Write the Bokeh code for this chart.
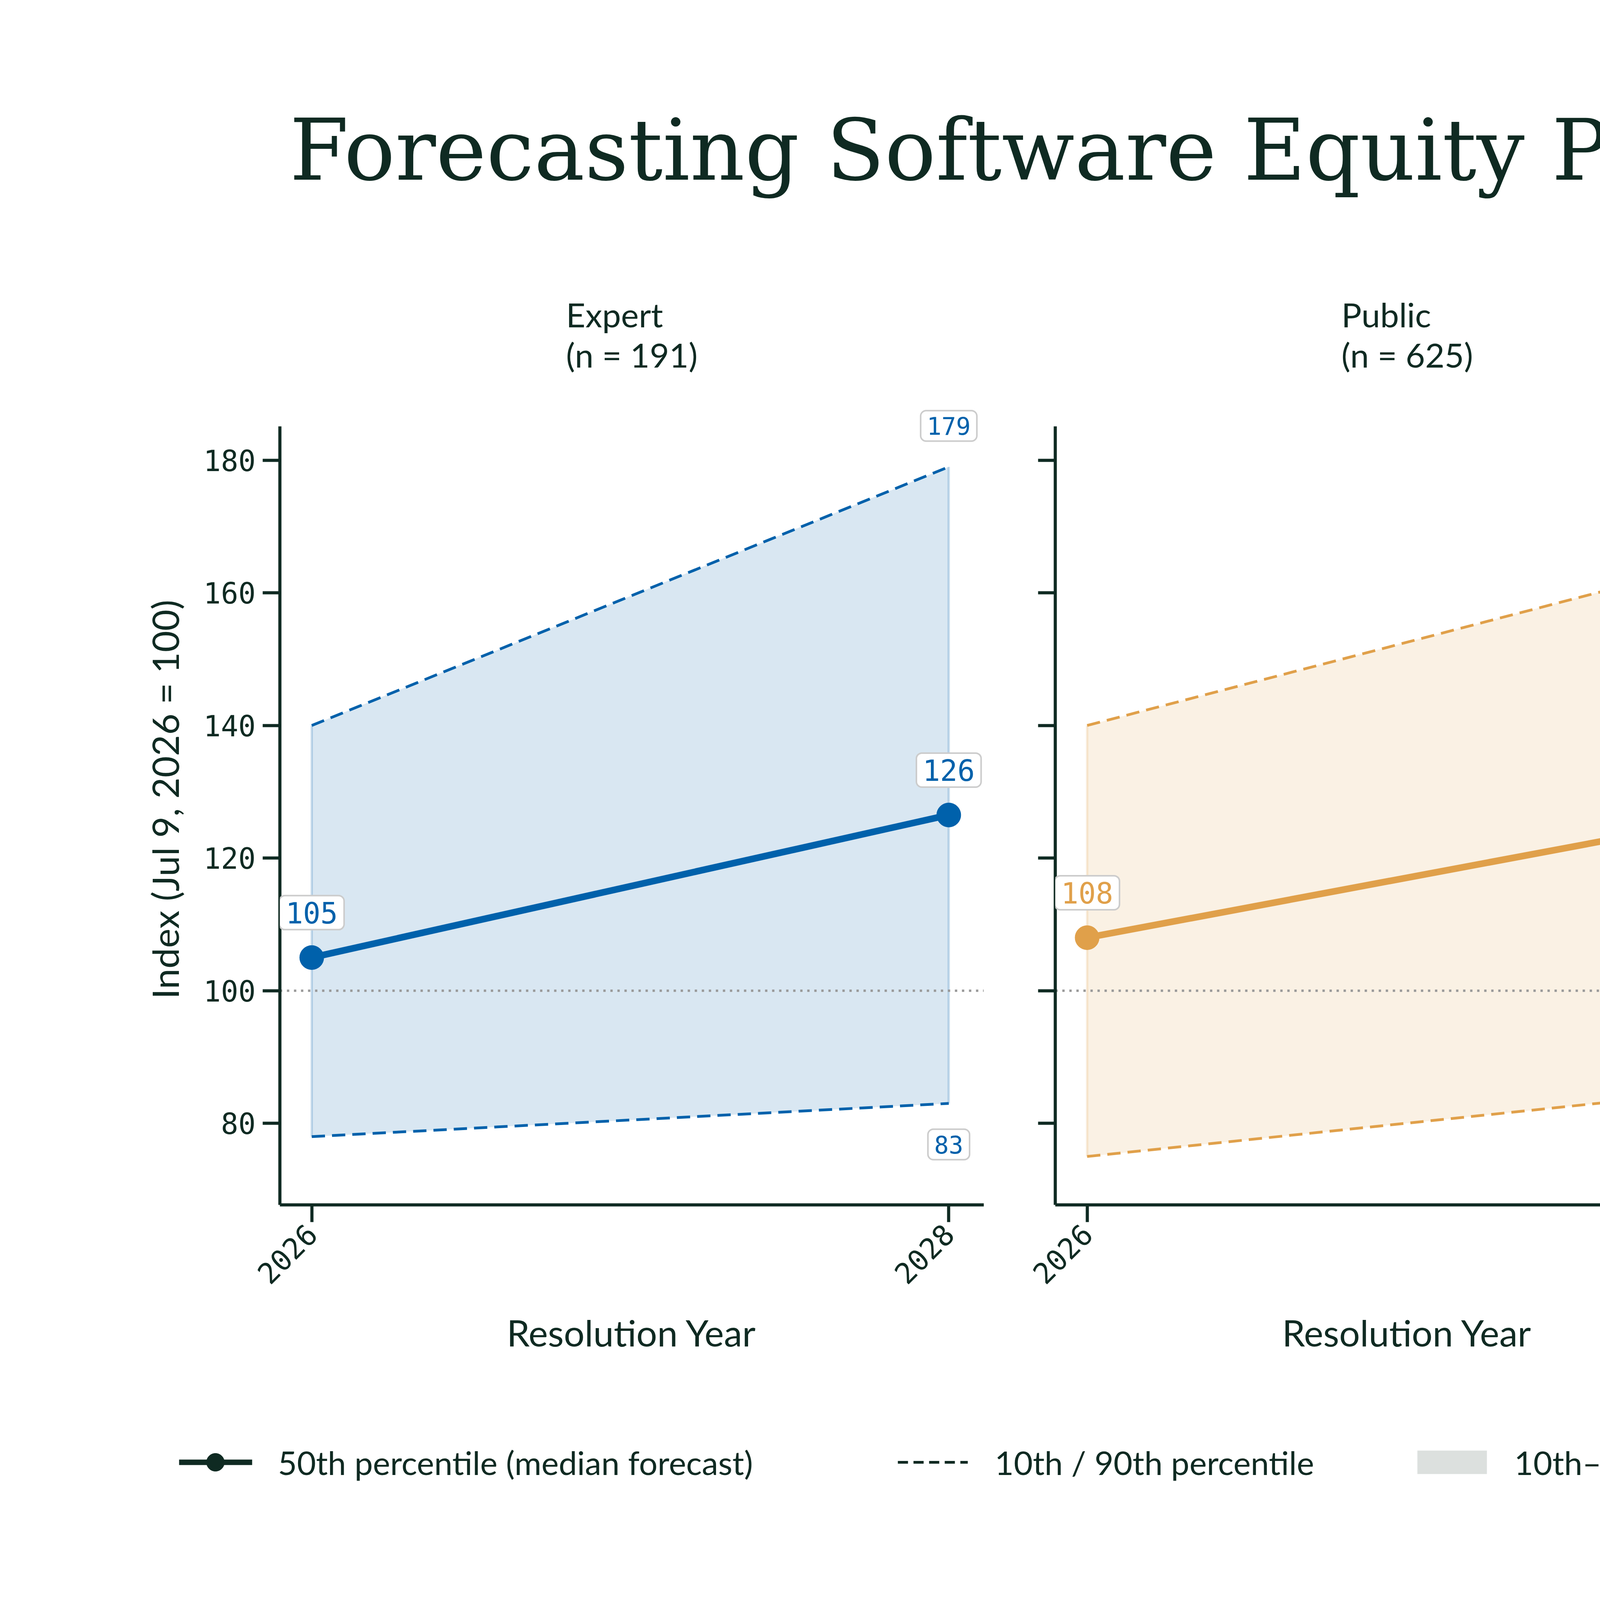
import math

from bokeh.core.properties import value
from bokeh.embed import file_html
from bokeh.layouts import column, row
from bokeh.models import Label, Range1d, FixedTicker
from bokeh.plotting import figure
from bokeh.resources import INLINE

# ---------------------------------------------------------------------------
# Data
# ---------------------------------------------------------------------------
years = [2026, 2028]
groups = ["Expert", "Public", "Superforecaster"]
counts = [191, 625, 52]
median = {"Expert": [105, 126.5], "Public": [108, 126], "Superforecaster": [104, 120]}
p10 = {"Expert": [78, 83], "Public": [75, 85], "Superforecaster": [73, 73]}
p90 = {"Expert": [140, 179], "Public": [140, 165], "Superforecaster": [130, 170]}
median_labels = {"Expert": ["105", "126"], "Public": ["108", "126"], "Superforecaster": ["104", "120"]}
y_ticks = [80, 100, 120, 140, 160, 180]
colors = {"Expert": "#0061AB", "Public": "#E0A04A", "Superforecaster": "#DF5A5E"}

DARK = "#0F2A22"
SANS = "Lato"
MONO = "DejaVu Sans Mono"
W = 6784
Y_LO, Y_SPINE, Y_HI = 67.7, 185.1, 190.0


def _blank(fig):
    fig.outline_line_color = None
    fig.xgrid.visible = False
    fig.ygrid.visible = False
    fig.background_fill_color = "white"
    fig.border_fill_color = "white"


def _label(fig, x, y, text, color, offset, size):
    fig.add_layout(Label(
        x=x, y=y, y_offset=offset, text=text, text_color=color,
        text_font=MONO, text_font_size=size, text_align="center",
        text_baseline="middle",
        background_fill_color="white", border_line_color="#cccccc",
        border_line_width=4, border_radius=14, padding=16,
    ))


def build_panel(i, g):
    left = 716 if i == 0 else 92
    right = 91 if i < 2 else 288
    fig = figure(
        frame_width=1802, frame_height=2076,
        min_border_left=left, min_border_right=right,
        min_border_top=290, min_border_bottom=480,
        x_range=Range1d(2025.9, 2028.11), y_range=Range1d(Y_LO, Y_HI),
        output_backend="svg", toolbar_location=None,
        title=f"{g}\n(n = {counts[i]})",
    )
    _blank(fig)
    fig.title.align = "center"
    fig.title.text_font = SANS
    fig.title.text_font_style = "normal"
    fig.title.text_font_size = "86px"
    fig.title.text_color = DARK
    fig.title.standoff = 100
    c = colors[g]

    fig.varea(x=years, y1=p10[g], y2=p90[g], fill_color=c, fill_alpha=0.15)
    for yy in (p10[g], p90[g]):
        fig.line(years, yy, line_color=c, line_width=7, line_dash="34 18")
    fig.segment(x0=years, y0=p10[g], x1=years, y1=p90[g], line_color=c, line_alpha=0.2, line_width=6)
    fig.line([2025.9, 2028.11], [100, 100], line_color="#999999", line_width=6, line_dash="6 12")
    fig.line(years, median[g], line_color=c, line_width=17)
    fig.scatter(years, median[g], size=62, color=c)

    for k, yr in enumerate(years):
        _label(fig, yr, median[g][k], median_labels[g][k], c, 115, "74px")
    _label(fig, 2028, p90[g][1], str(p90[g][1]), c, 105, "62px")
    _label(fig, 2028, p10[g][1], str(p10[g][1]), c, -105, "62px")

    for ax in (fig.xaxis[0], fig.yaxis[0]):
        ax.axis_line_width = 8
        ax.axis_line_color = DARK
        ax.major_tick_line_width = 8
        ax.major_tick_line_color = DARK
        ax.major_tick_out = 44
        ax.major_tick_in = 0
        ax.minor_tick_line_color = None
        ax.major_label_text_font = MONO
        ax.major_label_text_font_size = "74px"
        ax.major_label_text_color = DARK
        ax.major_label_standoff = 18
        ax.axis_label_text_font = SANS
        ax.axis_label_text_font_style = "normal"
        ax.axis_label_text_font_size = "94px"
        ax.axis_label_text_color = DARK
    fig.xaxis.ticker = FixedTicker(ticks=years)
    fig.xaxis.major_label_orientation = math.pi / 4
    fig.xaxis.axis_label = "Resolution Year"
    fig.xaxis.axis_label_standoff = 40
    fig.yaxis.ticker = FixedTicker(ticks=y_ticks)
    fig.yaxis.bounds = (Y_LO, Y_SPINE)
    if i == 0:
        fig.yaxis.axis_label = "Index (Jul 9, 2026 = 100)"
        fig.yaxis.axis_label_standoff = 40
    else:
        fig.yaxis.major_label_overrides = {t: "" for t in y_ticks}
    return fig


# title
title_fig = figure(width=W, height=700, x_range=Range1d(0, W), y_range=Range1d(0, 700),
                   output_backend="svg", toolbar_location=None, min_border=0)
_blank(title_fig)
title_fig.axis.visible = False
title_fig.text(x=[W / 2], y=[316], text=["Forecasting Software Equity Performance (IGV)"],
               text_font=value("DejaVu Serif"), text_font_size="218px", text_color=DARK,
               text_align="center", text_baseline="middle")

panels = [build_panel(i, g) for i, g in enumerate(groups)]

# legend
LH = 544
leg = figure(width=W, height=LH, x_range=Range1d(0, W), y_range=Range1d(0, LH),
             output_backend="svg", toolbar_location=None, min_border=0)
_blank(leg)
leg.axis.visible = False
ly = 365
leg.line([458, 645], [ly, ly], line_color=DARK, line_width=14)
leg.scatter([551], [ly], size=46, color=DARK)
leg.line([2298, 2477], [ly, ly], line_color=DARK, line_width=7, line_dash="26 14")
leg.quad(left=[3628], right=[3806], bottom=[ly - 30], top=[ly + 30], fill_color="#DCE0DE", line_color=None)
leg.line([4744, 4927], [ly, ly], line_color="#999999", line_width=6, line_dash="6 10")
leg.text(x=[711, 2546, 3876, 4997],
         y=[ly] * 4,
         text=["50th percentile (median forecast)", "10th / 90th percentile",
               "10th\u201390th range", "100 = closing price on Jul 9, 2026"],
         text_font=value(SANS), text_font_size="84px", text_color=DARK,
         text_baseline="middle")

layout = column(title_fig, row(*panels, spacing=0), leg, spacing=0)
open("out.html", "w").write(file_html(layout, INLINE))
